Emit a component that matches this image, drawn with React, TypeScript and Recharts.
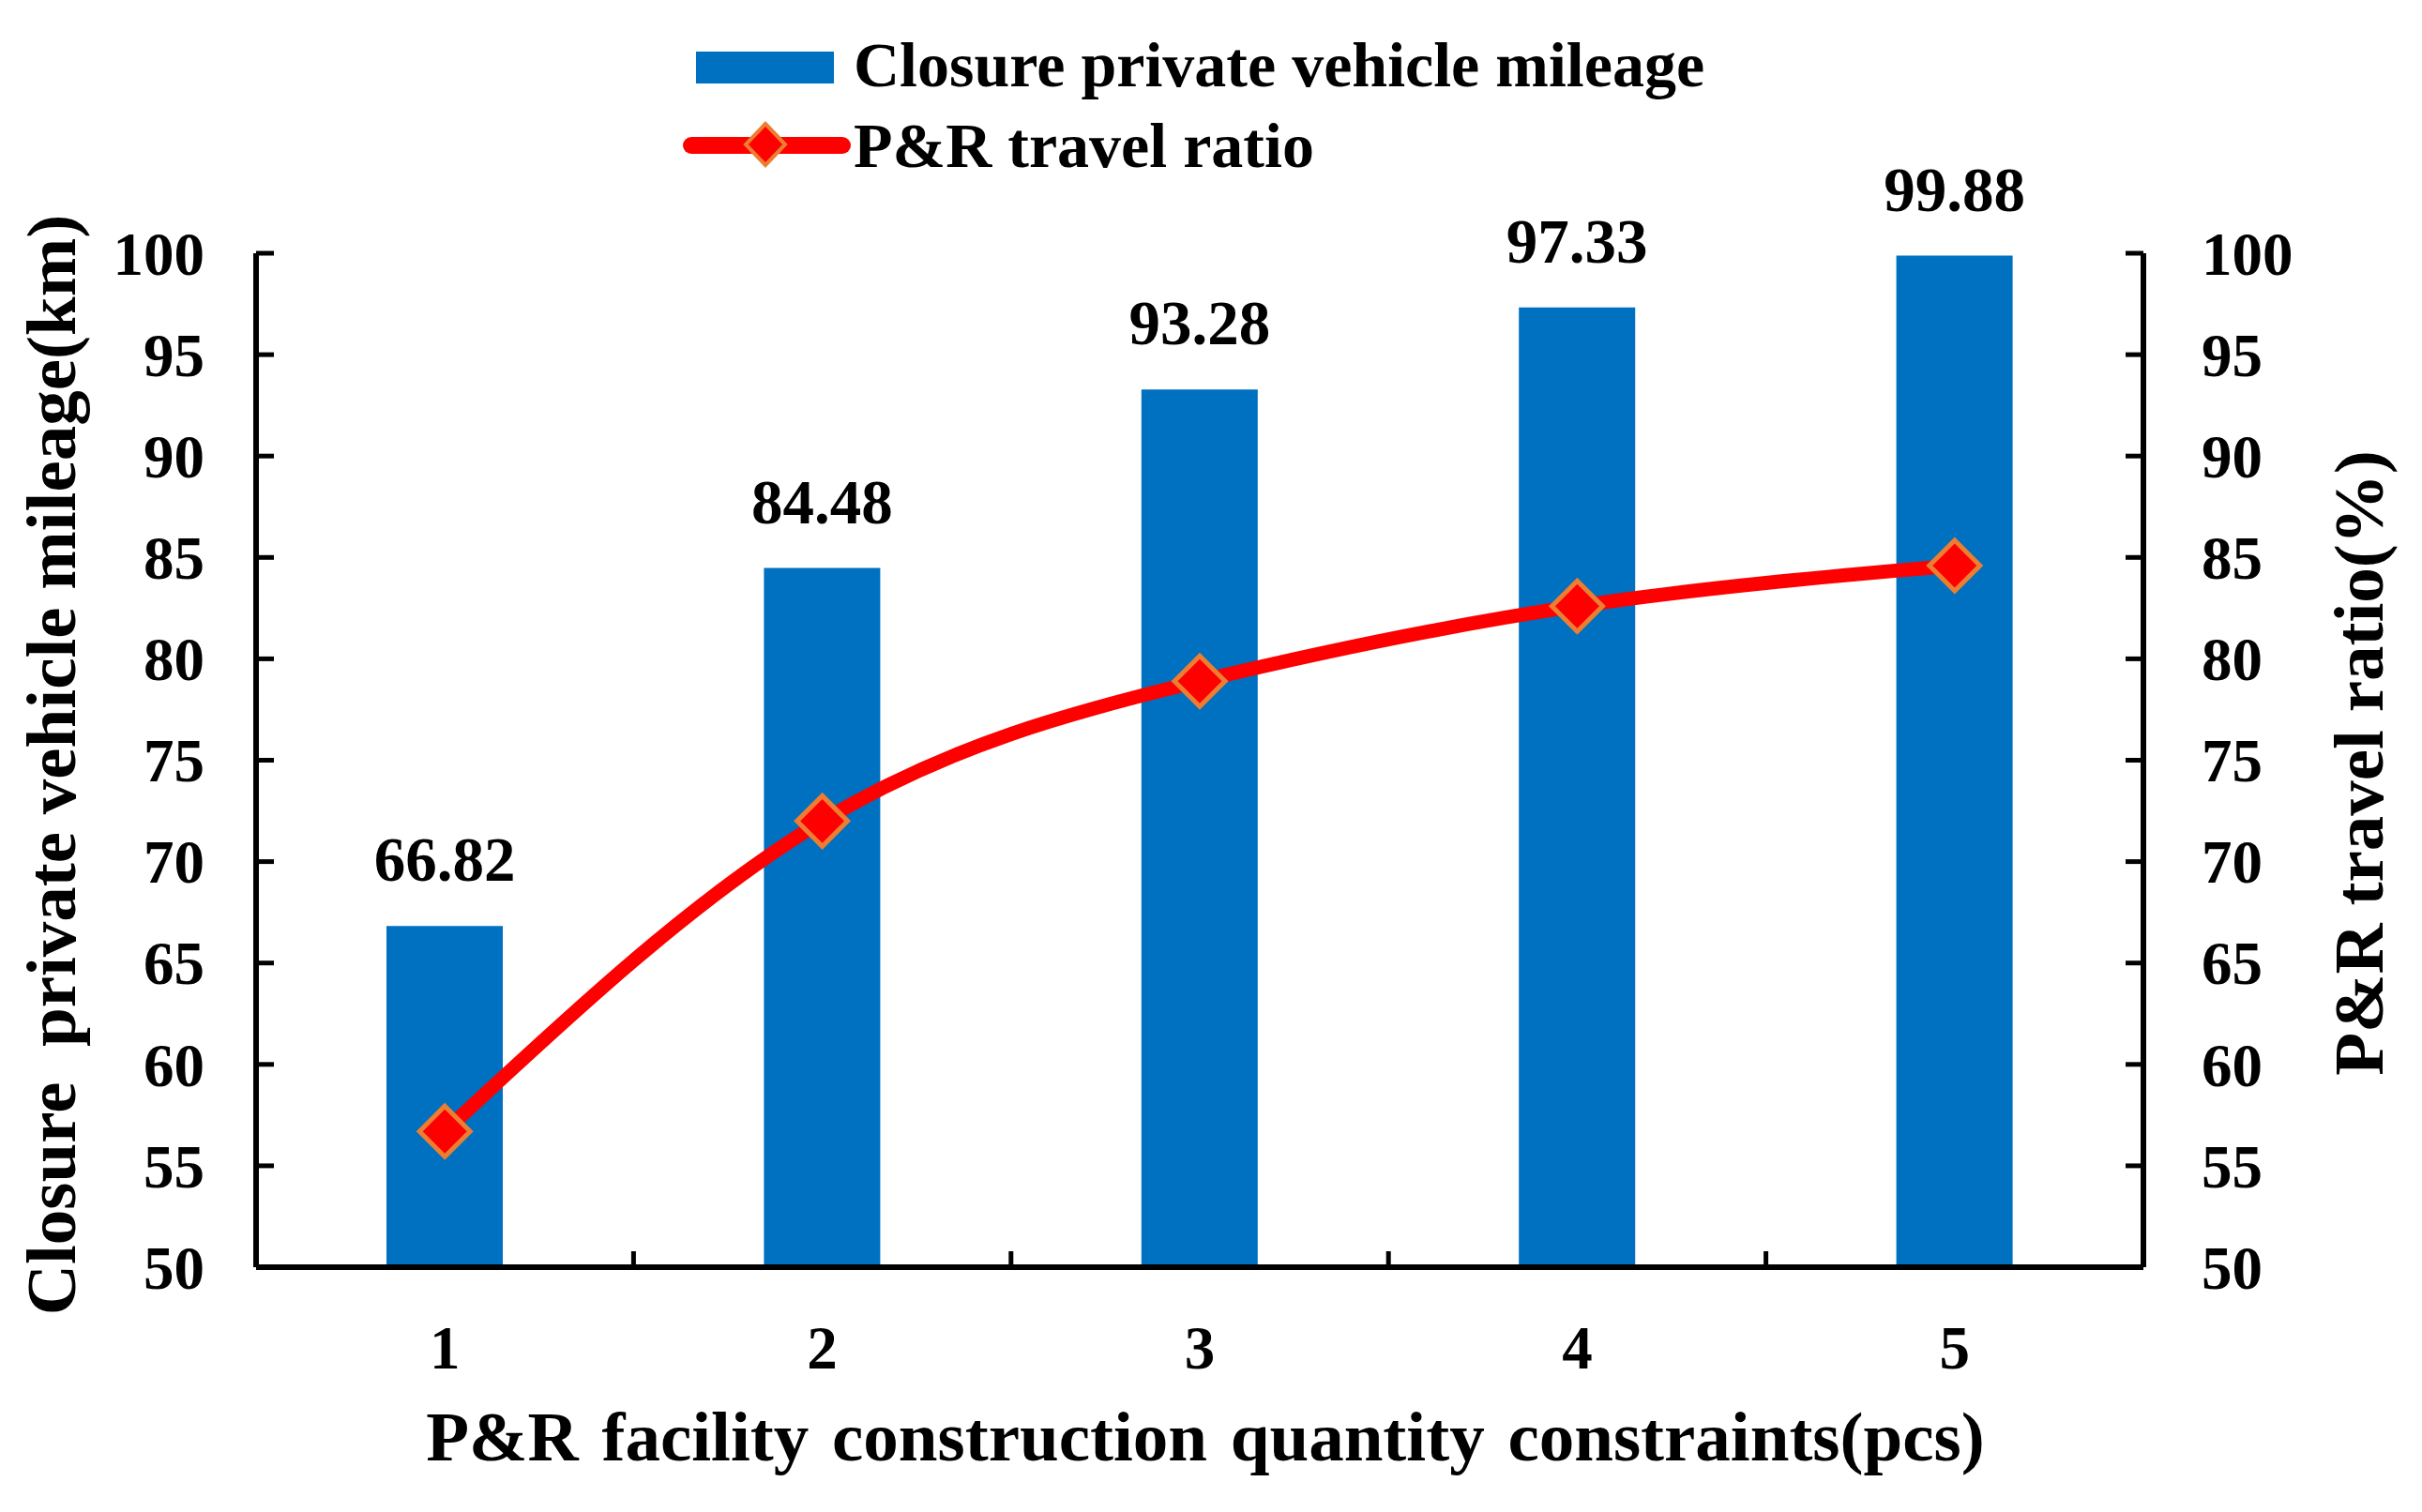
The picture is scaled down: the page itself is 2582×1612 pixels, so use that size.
import React from "react";
import {
  ComposedChart,
  Bar,
  Line,
  XAxis,
  YAxis,
  Legend,
  LabelList,
} from "recharts";

const categories = ["1", "2", "3", "4", "5"];
const mileage = [66.82, 84.48, 93.28, 97.33, 99.88];
const travelRatio = [56.7, 72.0, 78.9, 82.6, 84.6];
const yTicks = [50, 55, 60, 65, 70, 75, 80, 85, 90, 95, 100];

const barName = "Closure private vehicle mileage";
const lineName = "P&R travel ratio";
const xTitle = "P&R facility construction quantity constraints(pcs)";
const leftTitle = "Closure  private vehicle mileage(km)";
const rightTitle = "P&R travel ratio(%)";

const data = categories.map((c, i) => ({
  cat: c,
  mileage: mileage[i],
  ratio: travelRatio[i],
}));

const FONT = "'Liberation Serif', 'Times New Roman', serif";
const BLUE = "#0070C0";
const RED = "#FF0000";
const ORANGE = "#ED7D31";

const W = 2582;
const H = 1612;

const LEFT_MARGIN = 55;
const RIGHT_MARGIN = 62;
const X_MARGIN = 62;
const TICK_LEN = 19;

const LeftTick = (props: any) => {
  const { x, y, payload } = props;
  const ax = x + LEFT_MARGIN;
  return (
    <g>
      <line x1={ax} x2={ax + TICK_LEN} y1={y} y2={y} stroke="#000" strokeWidth={5} />
      <text x={x} y={y} dy="0.35em" textAnchor="end" fontFamily={FONT} fontWeight="bold" fontSize={65} fill="#000">
        {payload.value}
      </text>
    </g>
  );
};

const RightTick = (props: any) => {
  const { x, y, payload } = props;
  const ax = x - RIGHT_MARGIN;
  return (
    <g>
      <line x1={ax} x2={ax - TICK_LEN} y1={y} y2={y} stroke="#000" strokeWidth={5} />
      <text x={x} y={y} dy="0.35em" textAnchor="start" fontFamily={FONT} fontWeight="bold" fontSize={65} fill="#000">
        {payload.value}
      </text>
    </g>
  );
};

const BottomTick = (props: any) => {
  const { x, y, payload, index, visibleTicksCount } = props;
  const ay = y - X_MARGIN;
  const half = payload && payload.offset ? payload.offset : 201;
  const count = visibleTicksCount || categories.length;
  return (
    <g>
      {index < count - 1 && (
        <line x1={x + half} x2={x + half} y1={ay} y2={ay - 17} stroke="#000" strokeWidth={5} />
      )}
      <text x={x} y={y} dy="0.71em" textAnchor="middle" fontFamily={FONT} fontWeight="bold" fontSize={65} fill="#000">
        {payload.value}
      </text>
    </g>
  );
};

const Diamond = (props: any) => {
  const { cx, cy, index } = props;
  if (cx == null || cy == null) return <g key={index} />;
  const r = 27;
  return (
    <path
      key={index}
      d={`M${cx},${cy - r} L${cx + r},${cy} L${cx},${cy + r} L${cx - r},${cy} Z`}
      fill={RED}
      stroke={ORANGE}
      strokeWidth={5}
    />
  );
};

const LegendContent = (props: any) => {
  const payload = props.payload || [];
  const barItem = payload.find((p: any) => p.dataKey === "mileage");
  const lineItem = payload.find((p: any) => p.dataKey === "ratio");
  return (
    <svg width={W} height={200} style={{ display: "block" }}>
      <rect x={742} y={55} width={147} height={34} fill={BLUE} />
      <text x={910} y={92} fontFamily={FONT} fontWeight="bold" fontSize={68} fill="#000">
        {barItem ? barItem.value : barName}
      </text>
      <line x1={737} x2={898} y1={155} y2={155} stroke={RED} strokeWidth={18} strokeLinecap="round" />
      <path d="M816,132 L837,154 L816,176 L795,154 Z" fill={RED} stroke={ORANGE} strokeWidth={4} />
      <text x={910} y={178} fontFamily={FONT} fontWeight="bold" fontSize={68} fill="#000">
        {lineItem ? lineItem.value : lineName}
      </text>
    </svg>
  );
};

const LeftTitle = (props: any) => {
  const vb = props.viewBox || { x: 0, y: 270, width: 273, height: 1081 };
  const cx = vb.x + 80;
  const cy = vb.y + vb.height / 2 + 5;
  return (
    <text
      transform={`translate(${cx}, ${cy}) rotate(-90)`}
      textAnchor="middle"
      fontFamily={FONT}
      fontWeight="bold"
      fontSize={75}
      fill="#000"
      style={{ whiteSpace: "pre" }}
    >
      {leftTitle}
    </text>
  );
};

const RightTitle = (props: any) => {
  const vb = props.viewBox || { x: 2285, y: 270, width: 297, height: 1081 };
  const cx = vb.x + 255;
  const cy = vb.y + vb.height / 2 + 3;
  return (
    <text
      transform={`translate(${cx}, ${cy}) rotate(-90)`}
      textAnchor="middle"
      fontFamily={FONT}
      fontWeight="bold"
      fontSize={75}
      fill="#000"
    >
      {rightTitle}
    </text>
  );
};

const BottomTitle = (props: any) => {
  const vb = props.viewBox || { x: 273, y: 1351, width: 2012, height: 261 };
  return (
    <text
      x={vb.x + vb.width / 2 + 6}
      y={vb.y + 206}
      textAnchor="middle"
      fontFamily={FONT}
      fontWeight="bold"
      fontSize={75}
      fill="#000"
      style={{ wordSpacing: 6 }}
    >
      {xTitle}
    </text>
  );
};

export default function App() {
  return (
    <div style={{ position: "absolute", left: 0, top: 0, width: W, height: H, background: "#fff" }}>
      <ComposedChart
        width={W}
        height={H}
        data={data}
        margin={{ top: 270, right: 0, bottom: 0, left: 0 }}
      >
        <XAxis
          dataKey="cat"
          xAxisId="x"
          height={261}
          axisLine={{ stroke: "#000", strokeWidth: 6 }}
          tickLine={false}
          tickSize={0}
          tickMargin={X_MARGIN}
          tick={(p: any) => <BottomTick {...p} />}
          interval={0}
          label={{ content: (p: any) => <BottomTitle {...p} /> }}
        />
        <YAxis
          yAxisId="left"
          orientation="left"
          width={273}
          domain={[50, 100]}
          ticks={yTicks}
          allowDataOverflow
          axisLine={{ stroke: "#000", strokeWidth: 6 }}
          tickLine={false}
          tickSize={0}
          tickMargin={LEFT_MARGIN}
          tick={(p: any) => <LeftTick {...p} />}
          interval={0}
          label={{ content: (p: any) => <LeftTitle {...p} /> }}
        />
        <YAxis
          yAxisId="right"
          orientation="right"
          width={297}
          domain={[50, 100]}
          ticks={yTicks}
          allowDataOverflow
          axisLine={{ stroke: "#000", strokeWidth: 6 }}
          tickLine={false}
          tickSize={0}
          tickMargin={RIGHT_MARGIN}
          tick={(p: any) => <RightTick {...p} />}
          interval={0}
          label={{ content: (p: any) => <RightTitle {...p} /> }}
        />
        <Legend
          layout="horizontal"
          verticalAlign="middle"
          align="center"
          wrapperStyle={{ position: "absolute", top: 0, left: 0, width: W, height: 200 }}
          content={(p: any) => <LegendContent {...p} />}
        />
        <Bar
          xAxisId="x"
          yAxisId="left"
          dataKey="mileage"
          name={barName}
          fill={BLUE}
          barSize={124}
          isAnimationActive={false}
        >
          <LabelList
            dataKey="mileage"
            position="top"
            offset={48}
            formatter={(v: any) => Number(v).toFixed(2)}
            style={{ fontFamily: FONT, fontWeight: "bold", fontSize: 67, fill: "#000" }}
          />
        </Bar>
        <Line
          xAxisId="x"
          yAxisId="right"
          dataKey="ratio"
          name={lineName}
          type="natural"
          stroke={RED}
          strokeWidth={15}
          dot={(p: any) => <Diamond {...p} />}
          activeDot={false}
          isAnimationActive={false}
        />
      </ComposedChart>
    </div>
  );
}
